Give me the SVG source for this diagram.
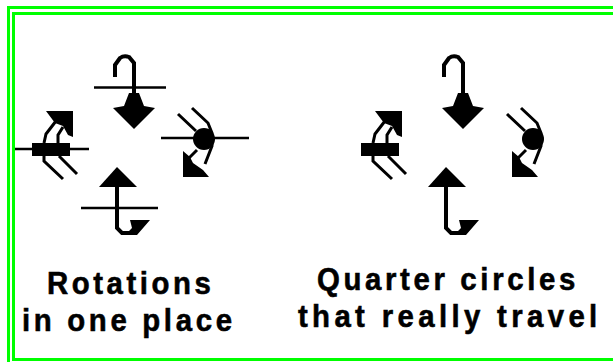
<svg xmlns="http://www.w3.org/2000/svg" width="613" height="362" viewBox="0 0 613 362">
<style>
.f{fill:#000;stroke:none}
.l{fill:none;stroke:#000;stroke-width:4}
.h{fill:none;stroke:#000;stroke-width:3}
.t{fill:none;stroke:#000;stroke-width:2.500}
.b{fill:none;stroke:#00ff00;stroke-width:3}
text{font-family:"Liberation Sans",Arial,sans-serif;font-size:28px;font-weight:bold;fill:#000;stroke:#000;stroke-width:.5}
</style>
<defs>
<g id="top"><path class="l" d="M115 77V65L120 58Q124 55 129 57L134 63V100"/><path class="f" d="M129 93H139L144 106L155 108L134 129L113 108L124 106Z"/></g>
<g id="bot"><path class="f" d="M117 167L137 187H99Z"/><path class="l" d="M117 185V228L122 233H134"/><path class="f" d="M130 220H150L137 235H125L132 228Z"/></g>
<g id="lft"><path class="f" d="M46 111H73V137L68 135L63 126L55 123Z"/><path class="h" d="M56 121L46 134L44 143M63 127L58 135V143"/><path class="h" d="M44 156V161L63 179M59 156L77 174"/><rect class="f" x="32" y="143" width="38" height="13"/></g>
<g id="rgt"><path class="h" d="M178 114L196 131M192 108L208 123L212 133V146L205 164M197 150L189 158"/><circle class="f" cx="204" cy="139" r="11"/><path class="f" d="M183 151L190 157L193 163L203 170L209 177H183Z"/></g>
</defs>
<rect width="613" height="362" fill="#fff"/>
<g id="frame"><path class="b" d="M613 7.500H8.500V362"/><path class="b" d="M613 13.500H13.500V359.500H613"/></g>
<g id="rotations">
<g id="r-top"><use href="#top"/><path class="t" d="M94 87.500H166"/></g>
<g id="r-left"><use href="#lft"/><path class="t" d="M15 149H89"/></g>
<g id="r-right"><use href="#rgt"/><path class="t" d="M161 138H249"/></g>
<g id="r-bottom"><use href="#bot"/><path class="t" d="M81 208H158"/></g>
</g>
<g id="quarters" transform="translate(329 0)">
<g id="q-top"><use href="#top"/></g>
<g id="q-left"><use href="#lft"/></g>
<g id="q-right"><use href="#rgt"/></g>
<g id="q-bottom"><use href="#bot"/></g>
</g>
<g id="labels">
<text transform="translate(47 294) scale(1.05 1.15)" textLength="156">Rotations</text>
<text transform="translate(22 331) scale(1.05 1.15)" textLength="200">in one place</text>
<text transform="translate(317 290) scale(1.05 1.15)" textLength="246">Quarter circles</text>
<text transform="translate(298 327) scale(1.05 1.15)" textLength="285">that really travel</text>
</g>
</svg>
